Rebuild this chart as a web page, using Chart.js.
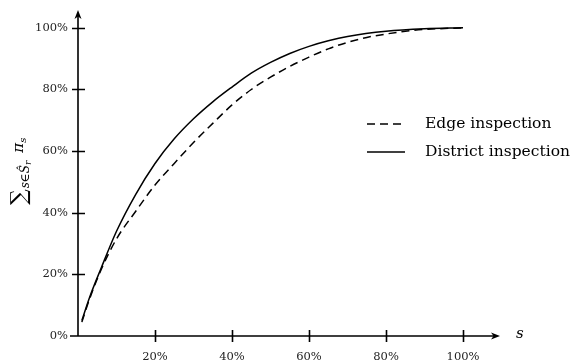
<!DOCTYPE html>
<html>
<head>
<meta charset="utf-8">
<script src="https://cdn.jsdelivr.net/npm/chart.js@4"></script>
<style>
  html, body { margin: 0; padding: 0; background: #fff; }
  #wrap { width: 572px; height: 364px; }
</style>
</head>
<body>
<div id="wrap"><canvas id="grafico" width="572" height="364"></canvas></div>
<script>
// series values (x = s in %, y = cumulative share in %)
const edgeX = [1, 3, 6, 10, 15, 20, 25, 30, 35, 40, 45, 50, 55, 60, 65, 70, 75, 80, 85, 90, 100];
const edgeY = [4.5, 12, 21.5, 31.5, 40.5, 49, 56, 62.8, 69, 75, 80, 84, 87.5, 90.5, 93.2, 95.3, 96.9, 98, 98.9, 99.5, 100];

const districtX = [1, 3, 6, 10, 15, 20, 25, 30, 35, 40, 45, 50, 55, 60, 65, 70, 80, 90, 100];
const districtY = [5, 12.5, 22, 34, 46, 56, 64, 70.5, 76, 80.8, 85.3, 88.8, 91.7, 94, 95.8, 97.2, 98.9, 99.7, 100];

const seriesLabels = ["Edge inspection", "District inspection"];

// tick labels
const xTickValues = [20, 40, 60, 80, 100];
const yTickValues = [0, 20, 40, 60, 80, 100];

const FONTE = "'DejaVu Serif', serif";

function pontos(xs, ys) {
  return xs.map((x, i) => ({ x: x, y: ys[i] }));
}

// draws the axes with arrows, crossing ticks, labels, the legend and the titles
const eixosPlugin = {
  id: "eixos",
  afterDraw(chart) {
    const ctx = chart.ctx;
    const sx = chart.scales.x;
    const sy = chart.scales.y;
    const x0 = sx.getPixelForValue(0);
    const y0 = sy.getPixelForValue(0);
    const xEnd = sx.getPixelForValue(sx.max);
    const yEnd = sy.getPixelForValue(sy.max);

    ctx.save();
    ctx.strokeStyle = "#000";
    ctx.fillStyle = "#000";
    ctx.lineWidth = 1.6;

    // axes
    ctx.beginPath();
    ctx.moveTo(x0 - 8, y0);
    ctx.lineTo(xEnd - 3, y0);
    ctx.moveTo(x0, y0);
    ctx.lineTo(x0, yEnd + 3);
    ctx.stroke();

    // arrow heads
    ctx.beginPath();
    ctx.moveTo(xEnd, y0);
    ctx.lineTo(xEnd - 9, y0 - 3.5);
    ctx.lineTo(xEnd - 6.5, y0);
    ctx.lineTo(xEnd - 9, y0 + 3.5);
    ctx.closePath();
    ctx.fill();
    ctx.beginPath();
    ctx.moveTo(x0, yEnd);
    ctx.lineTo(x0 - 3.5, yEnd + 9);
    ctx.lineTo(x0, yEnd + 6.5);
    ctx.lineTo(x0 + 3.5, yEnd + 9);
    ctx.closePath();
    ctx.fill();

    // ticks
    ctx.beginPath();
    xTickValues.forEach((v) => {
      const px = Math.round(sx.getPixelForValue(v)) + 0.5;
      ctx.moveTo(px, y0 - 6);
      ctx.lineTo(px, y0 + 6);
    });
    yTickValues.forEach((v) => {
      if (v === 0) return;
      const py = Math.round(sy.getPixelForValue(v)) + 0.5;
      ctx.moveTo(x0 - 6, py);
      ctx.lineTo(x0 + 7, py);
    });
    ctx.stroke();

    // tick labels
    ctx.fillStyle = "#222";
    ctx.font = "11.5px " + FONTE;
    ctx.textAlign = "center";
    ctx.textBaseline = "middle";
    xTickValues.forEach((v) => {
      ctx.fillText(v + "%", sx.getPixelForValue(v), y0 + 21);
    });
    ctx.textAlign = "right";
    yTickValues.forEach((v) => {
      ctx.fillText(v + "%", x0 - 10, sy.getPixelForValue(v));
    });

    // x axis name
    ctx.fillStyle = "#000";
    ctx.textAlign = "left";
    ctx.font = "italic 15px " + FONTE;
    ctx.fillText("s", xEnd + 16, y0 - 2);

    // y axis title: sum over s in S_r of pi_s
    ctx.save();
    ctx.translate(27, 205);
    ctx.rotate(-Math.PI / 2);
    ctx.textBaseline = "alphabetic";
    ctx.textAlign = "left";
    let pos = 0;
    const pedaco = (txt, font, dy) => {
      ctx.font = font;
      ctx.fillText(txt, pos, dy);
      pos += ctx.measureText(txt).width;
    };
    pedaco("\u2211", "22px " + FONTE, -1);
    pos += 1;
    pedaco("s\u2208", "italic 12px " + FONTE, 2);
    pedaco("\u015C", "italic 12px " + FONTE, 2);
    pedaco("r", "italic 9px " + FONTE, 4);
    pos += 8;
    pedaco("\u03C0", "italic 15px " + FONTE, -4);
    pedaco("s", "italic 10px " + FONTE, -1);
    ctx.restore();

    // legend
    ctx.font = "15.5px " + FONTE;
    ctx.textAlign = "left";
    ctx.textBaseline = "middle";
    chart.data.datasets.forEach((ds, i) => {
      const ly = 124 + i * 28;
      ctx.save();
      ctx.lineWidth = 1.5;
      ctx.setLineDash(ds.borderDash || []);
      ctx.beginPath();
      ctx.moveTo(367, ly);
      ctx.lineTo(405, ly);
      ctx.stroke();
      ctx.restore();
      ctx.fillText(ds.label, 425, ly);
    });

    ctx.restore();
  },
};

const ctxGrafico = document.getElementById("grafico");
new Chart(ctxGrafico, {
  type: "line",
  data: {
    datasets: [
      {
        label: seriesLabels[0],
        data: pontos(edgeX, edgeY),
        borderColor: "#000",
        borderWidth: 1.5,
        borderDash: [8, 5],
        pointRadius: 0,
        cubicInterpolationMode: "monotone",
        fill: false,
      },
      {
        label: seriesLabels[1],
        data: pontos(districtX, districtY),
        borderColor: "#000",
        borderWidth: 1.5,
        pointRadius: 0,
        cubicInterpolationMode: "monotone",
        fill: false,
      },
    ],
  },
  options: {
    responsive: false,
    animation: false,
    layout: { padding: { left: 78, right: 72, top: 10, bottom: 28 } },
    plugins: { legend: { display: false }, tooltip: { enabled: false } },
    scales: {
      x: { type: "linear", min: 0, max: 109.6, display: false },
      y: { type: "linear", min: 0, max: 105.8, display: false },
    },
  },
  plugins: [eixosPlugin],
});
</script>
</body>
</html>
